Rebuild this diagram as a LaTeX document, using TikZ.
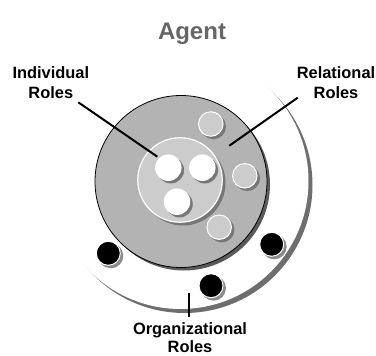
\documentclass[tikz,border=0pt]{standalone}
\usepackage{fontspec}
\setmainfont{Liberation Sans}
\definecolor{titlegray}{HTML}{666666}
\definecolor{orgshadow}{HTML}{6E6E6E}
\definecolor{bigshadow}{HTML}{5A5A5A}
\definecolor{relgray}{HTML}{B3B3B3}
\definecolor{indgray}{HTML}{CCCCCC}
\definecolor{smallshadow}{HTML}{777777}
\begin{document}
\begin{tikzpicture}[x=1pt,y=-1pt,
  disc/.style={circle, inner sep=0pt, outer sep=0pt, draw=none},
  shade/.style={disc, fill=smallshadow},
  whiterole/.style={disc, fill=white, minimum size=26.5pt},
  relrole/.style={disc, fill=indgray, draw=white, line width=1pt, minimum size=24.5pt},
  orgrole/.style={disc, fill=black, draw=white, line width=1pt, minimum size=24pt},
  leader/.style={line width=2pt, black},
  lbl/.style={font=\bfseries\fontsize{16.4}{20.5}\selectfont, align=center, inner sep=0pt, anchor=north}]
\useasboundingbox (0,0) rectangle (376,356);
% organizational ring
\node[disc, fill=orgshadow, minimum size=256pt] (orgsh) at (184.5,185) {};
\node[disc, fill=white, minimum size=256pt] (org) at (180.5,181) {};
% relational disc
\node[disc, fill=bigshadow, minimum size=172pt] (relsh) at (184,184.5) {};
\node[disc, fill=relgray, draw=black, line width=0.8pt, minimum size=172pt] (rel) at (181,181.5) {};
% individual disc
\node[disc, fill=smallshadow, minimum size=85pt] (indsh) at (183,183) {};
\node[disc, fill=indgray, draw=white, line width=1.2pt, minimum size=84.5pt] (ind) at (180,180) {};
% individual roles
\foreach \n/\x/\y in {w1/168.3/167.7, w2/202.3/167.7, w3/177/201.7}{
  \node[shade, minimum size=26.5pt] at (\x+2.5,\y+2.5) {};
  \node[whiterole] (\n) at (\x,\y) {};
}
% relational roles
\foreach \n/\x/\y in {r1/210.8/124, r2/244.8/175.8, r3/219.2/227.2}{
  \node[shade, minimum size=25.5pt] at (\x+2.5,\y+2.5) {};
  \node[relrole] (\n) at (\x,\y) {};
}
% organizational roles
\foreach \n/\x/\y in {o1/108.3/253.3, o2/271.7/244.3, o3/211/285.7}{
  \node[shade, fill=orgshadow!80, minimum size=25pt] at (\x+2.5,\y+2.5) {};
  \node[orgrole] (\n) at (\x,\y) {};
}
% labels
\node[font=\bfseries\fontsize{24}{28}\selectfont, text=titlegray, inner sep=0pt, anchor=base] (title) at (192,39.3) {Agent};
\node[lbl] (indl) at (50.8,66.3) {Individual\\Roles};
\node[lbl] (rell) at (336,66.3) {Relational\\Roles};
\node[lbl, font=\bfseries\fontsize{16.4}{18.5}\selectfont] (orgl) at (190,322) {Organizational\\Roles};
% leaders
\coordinate (indS) at (78.3,102.3);
\coordinate (indE) at (157.3,156.7);
\coordinate (relS) at (297.7,97.7);
\coordinate (relE) at (229.3,145.7);
\coordinate (orgS) at (189.3,292.7);
\coordinate (orgE) at (189.3,317);
\draw[leader] (indS) -- (indE);
\draw[leader] (relS) -- (relE);
\draw[leader] (orgS) -- (orgE);
\end{tikzpicture}
\end{document}
